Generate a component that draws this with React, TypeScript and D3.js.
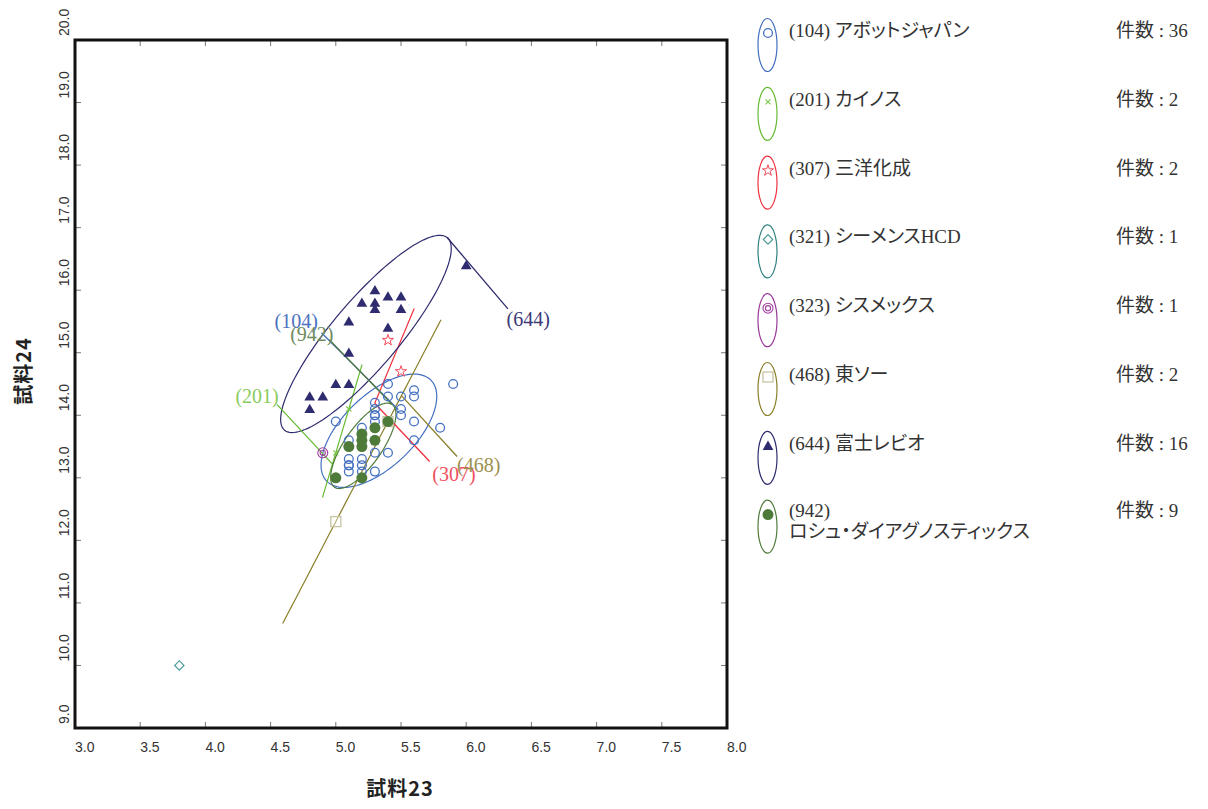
import React from "react";
import * as d3 from "d3";

// group codes, names, counts
const codes = ["104", "201", "307", "321", "323", "468", "644", "942"];
const names = [
  "アボットジャパン",
  "カイノス",
  "三洋化成",
  "シーメンスHCD",
  "シスメックス",
  "東ソー",
  "富士レビオ",
  "ロシュ・ダイアグノスティックス",
];
const counts = [36, 2, 2, 1, 1, 2, 16, 9];

// (試料23, 試料24) pairs per group
const pts104 = [
  [5.4, 14.5], [5.9, 14.5], [5.6, 14.4], [5.4, 14.3], [5.5, 14.3], [5.6, 14.3],
  [5.3, 14.2], [5.3, 14.1], [5.3, 14.0], [5.3, 13.9], [5.5, 14.1], [5.5, 14.0],
  [5.6, 13.9], [5.0, 13.9], [5.8, 13.8], [5.2, 13.8], [5.1, 13.6], [5.6, 13.6],
  [5.3, 13.4], [5.4, 13.4], [5.1, 13.3], [5.1, 13.2], [5.1, 13.1], [5.2, 13.3],
  [5.2, 13.2], [5.2, 13.1], [5.3, 13.1], [5.2, 13.7], [5.2, 13.6], [5.2, 13.5],
  [5.3, 13.8], [5.3, 13.6], [5.1, 13.5], [5.4, 13.9], [5.3, 14.0], [5.1, 13.2],
];
const pts201 = [[5.1, 14.1], [5.0, 13.4]];
const pts307 = [[5.4, 15.2], [5.5, 14.7]];
const pts321 = [[3.8, 10.0]];
const pts323 = [[4.9, 13.4]];
const pts468 = [[5.0, 12.3], [5.4, 13.9]];
const pts644 = [
  [6.0, 16.4], [5.3, 16.0], [5.2, 15.8], [5.3, 15.8], [5.3, 15.7], [5.4, 15.9],
  [5.5, 15.9], [5.5, 15.7], [5.1, 15.5], [5.4, 15.4], [5.1, 15.0], [5.0, 14.5],
  [5.1, 14.5], [4.8, 14.3], [4.9, 14.3], [4.8, 14.1],
];
const pts942 = [
  [5.0, 13.0], [5.2, 13.0], [5.1, 13.5], [5.2, 13.7], [5.2, 13.6], [5.2, 13.5],
  [5.3, 13.8], [5.3, 13.6], [5.4, 13.9],
];
const allPts = [pts104, pts201, pts307, pts321, pts323, pts468, pts644, pts942];

const shapes = ["circle", "cross", "star", "diamond", "double", "square", "triangle", "dot"];
const lineColors = ["#4470c0", "#66bb33", "#f0303f", "#2f8080", "#9b3a9b", "#8a7f2a", "#2e2b6e", "#4f7b3a"];
const markColors = ["#4470c0", "#7cc84a", "#f04a5a", "#4f9c9c", "#a040a0", "#c8c4a4", "#2e2b6e", "#4f7b3a"];
const labelColors = ["#4a72c0", "#88cc5c", "#f0505e", "#2f8080", "#9b3a9b", "#9c9050", "#3c3a78", "#6e8c5e"];

// group labels inside the plot: text position, connector end, connector start
const labelGroups = ["104", "942", "201", "644", "307", "468"];
const labelTextAt = [[4.53, 15.4], [4.65, 15.19], [4.23, 14.2], [6.31, 15.43], [5.74, 12.95], [5.93, 13.1]];
const labelLineEnd = [[4.89, 15.32], [4.95, 15.21], [4.55, 14.17], [6.32, 15.7], [5.72, 13.26], [5.93, 13.34]];
// start: a point in data units, or a fraction along the ellipse major axis
const labelLineStart: any[] = [[5.48, 14.09], { u: 1 }, { u: -0.5 }, { u: 1 }, { u: -1 }, { u: 0.5 }];

const xTicks = [3.0, 3.5, 4.0, 4.5, 5.0, 5.5, 6.0, 6.5, 7.0, 7.5, 8.0];
const yTicks = [9, 10, 11, 12, 13, 14, 15, 16, 17, 18, 19, 20];

const K = Math.sqrt(-2 * Math.log(0.1)); // 90% ellipse

const x = d3.scaleLinear().domain([3, 8]).range([75, 727]);
const y = d3.scaleLinear().domain([9, 20]).range([728, 40]);

const serif = "'Liberation Serif', 'Noto Sans CJK JP', serif";
const sans = "'Liberation Sans', Arial, sans-serif";

function ellipseOf(pts: number[][]) {
  const px = pts.map((p) => [x(p[0]), y(p[1])]);
  const n = px.length;
  const mx = d3.mean(px, (p) => p[0]) as number;
  const my = d3.mean(px, (p) => p[1]) as number;
  let a = 0, b = 0, c = 0;
  px.forEach(([u, v]) => {
    a += (u - mx) ** 2;
    c += (v - my) ** 2;
    b += (u - mx) * (v - my);
  });
  a /= n - 1; b /= n - 1; c /= n - 1;
  b = -Math.abs(b); // the source tilts every ellipse up-right
  const theta = 0.5 * Math.atan2(2 * b, a - c);
  const half = (a + c) / 2;
  const r = Math.sqrt(((a - c) / 2) ** 2 + b * b);
  return {
    cx: mx, cy: my, theta,
    ra: K * Math.sqrt(half + r),
    rb: K * Math.sqrt(Math.max(0, half - r)),
  };
}

function ellipsePath(e: any) {
  const ct = Math.cos(e.theta), st = Math.sin(e.theta);
  const pts = d3.range(0, 360, 3).map((deg) => {
    const t = (deg * Math.PI) / 180;
    const a = e.ra * Math.cos(t), b = e.rb * Math.sin(t);
    return [e.cx + a * ct - b * st, e.cy + a * st + b * ct] as [number, number];
  });
  return d3.line().curve(d3.curveLinearClosed)(pts) as string;
}

function Marker({ shape, cx, cy, color }: any) {
  switch (shape) {
    case "circle":
      return <circle cx={cx} cy={cy} r={4.4} fill="none" stroke={color} strokeWidth={1.3} />;
    case "dot":
      return <circle cx={cx} cy={cy} r={5.5} fill={color} />;
    case "cross":
      return (
        <path d={`M${cx - 2.5},${cy - 2.5}L${cx + 2.5},${cy + 2.5}M${cx - 2.5},${cy + 2.5}L${cx + 2.5},${cy - 2.5}`}
          stroke={color} strokeWidth={1.2} />
      );
    case "star":
      return (
        <path d={d3.symbol(d3.symbolStar, 38)() as string} transform={`translate(${cx},${cy})`}
          fill="white" stroke={color} strokeWidth={1} />
      );
    case "diamond":
      return (
        <path d={d3.symbol(d3.symbolSquare, 44)() as string} transform={`translate(${cx},${cy}) rotate(45)`}
          fill="white" stroke={color} strokeWidth={1.2} />
      );
    case "double":
      return (
        <g fill="none" stroke={color} strokeWidth={1.1}>
          <circle cx={cx} cy={cy} r={5} />
          <circle cx={cx} cy={cy} r={2.6} />
        </g>
      );
    case "square":
      return <rect x={cx - 5} y={cy - 5} width={10} height={10} fill="white" fillOpacity={0.4} stroke={color} strokeWidth={1.3} />;
    case "triangle":
      return <path d={d3.symbol(d3.symbolTriangle, 50)() as string} transform={`translate(${cx},${cy + 1})`} fill={color} />;
  }
  return null;
}

export default function App() {
  const ellipses = allPts.map((p) => (p.length > 1 ? ellipseOf(p) : null));
  const legendY = (i: number) => 45 + i * 68.8;

  return (
    <div style={{ position: "absolute", left: 0, top: 0 }}>
      <svg width={1208} height={809} style={{ display: "block", background: "#fff" }}>
        {/* ticks */}
        <g stroke="#777" strokeWidth={1}>
          {xTicks.map((t) => (
            <g key={"xt" + t}>
              <line x1={x(t)} x2={x(t)} y1={y(9)} y2={y(9) - 6} />
              <line x1={x(t)} x2={x(t)} y1={y(20)} y2={y(20) + 6} />
            </g>
          ))}
          {yTicks.map((t) => (
            <g key={"yt" + t}>
              <line x1={x(3)} x2={x(3) + 6} y1={y(t)} y2={y(t)} />
              <line x1={x(8)} x2={x(8) - 6} y1={y(t)} y2={y(t)} />
            </g>
          ))}
        </g>
        <g fontFamily={sans} fontSize={14} fill="#333">
          {xTicks.map((t) => (
            <text key={"xl" + t} x={x(t)} y={752}>{t.toFixed(1)}</text>
          ))}
          {yTicks.map((t) => (
            <text key={"yl" + t} transform={`translate(69,${y(t) - 4}) rotate(-90)`}>{t.toFixed(1)}</text>
          ))}
        </g>

        {/* ellipses */}
        {ellipses.map((e, i) =>
          e ? <path key={"e" + i} d={ellipsePath(e)} fill="none" stroke={lineColors[i]} strokeWidth={1.2} /> : null
        )}

        {/* label connectors */}
        {labelGroups.map((code, j) => {
          const gi = codes.indexOf(code);
          const e: any = ellipses[gi];
          const s = labelLineStart[j];
          const start = Array.isArray(s)
            ? [x(s[0]), y(s[1])]
            : [e.cx + s.u * e.ra * Math.cos(e.theta), e.cy + s.u * e.ra * Math.sin(e.theta)];
          return (
            <line key={"c" + code} x1={start[0]} y1={start[1]} x2={x(labelLineEnd[j][0])} y2={y(labelLineEnd[j][1])}
              stroke={lineColors[gi]} strokeWidth={1.3} />
          );
        })}

        {/* points */}
        {allPts.map((pts, i) => (
          <g key={"p" + i}>
            {pts.map((p, k) => (
              <Marker key={k} shape={shapes[i]} cx={x(p[0])} cy={y(p[1])} color={markColors[i]} />
            ))}
          </g>
        ))}

        {/* labels */}
        <g fontFamily={serif} fontSize={20}>
          {labelGroups.map((code, j) => (
            <text key={"l" + code} x={x(labelTextAt[j][0])} y={y(labelTextAt[j][1])}
              fill={labelColors[codes.indexOf(code)]}>({code})</text>
          ))}
        </g>

        {/* frame */}
        <rect x={x(3)} y={y(20)} width={x(8) - x(3)} height={y(9) - y(20)} fill="none" stroke="#111" strokeWidth={3} />

        {/* axis titles */}
        <text x={400} y={796} textAnchor="middle" fontFamily="'Noto Sans CJK JP', sans-serif" fontWeight={700}
          fontSize={20} fill="#222" letterSpacing={1}>試料23</text>
        <text transform="translate(31,371) rotate(-90)" textAnchor="middle" fontFamily="'Noto Sans CJK JP', sans-serif"
          fontWeight={700} fontSize={20} fill="#222" letterSpacing={1}>試料24</text>

        {/* legend */}
        <g fontFamily={serif} fontSize={19} fill="#333" style={{ fontFeatureSettings: '"palt"' }}>
          {codes.map((code, i) => {
            const cy = legendY(i);
            const twoLines = names[i].length > 12;
            return (
              <g key={"lg" + code}>
                <ellipse cx={767.5} cy={cy} rx={9.5} ry={26.5} fill="none" stroke={lineColors[i]} strokeWidth={1.2} />
                <Marker shape={shapes[i]} cx={768} cy={cy - 12} color={markColors[i]} />
                {twoLines ? (
                  <>
                    <text x={789} y={cy - 10}>({code})</text>
                    <text x={789} y={cy + 11}>{names[i]}</text>
                  </>
                ) : (
                  <text x={789} y={cy - 8}>({code}) {names[i]}</text>
                )}
                <text x={1116} y={twoLines ? cy - 10 : cy - 8}>件数 : {counts[i]}</text>
              </g>
            );
          })}
        </g>
      </svg>
    </div>
  );
}
